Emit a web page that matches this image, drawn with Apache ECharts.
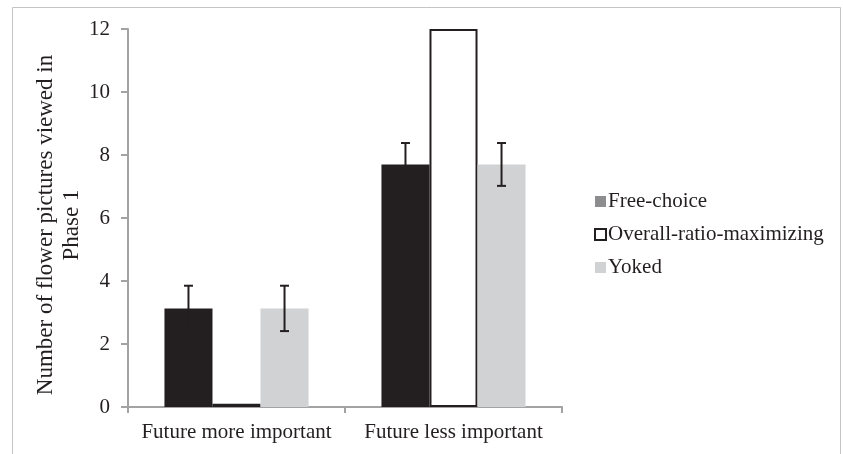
<!DOCTYPE html>
<html>
<head>
<meta charset="utf-8">
<script src="https://cdn.jsdelivr.net/npm/echarts@6/dist/echarts.min.js"></script>
<style>
html,body{margin:0;padding:0;background:#fff;}
#chart{width:843px;height:454px;}
</style>
</head>
<body>
<div id="chart"></div>
<script>
const categories = ['Future more important', 'Future less important'];
const seriesNames = ['Free-choice', 'Overall-ratio-maximizing', 'Yoked'];
const freeChoice = [3.13, 7.7];
const overallRatio = [0.1, 12];
const yoked = [3.13, 7.7];
const freeChoiceErr = [0.72, 0.68];
const yokedErr = [0.72, 0.68];
const yTicks = [0, 2, 4, 6, 8, 10, 12];

const FONT = "'Liberation Serif', 'Times New Roman', serif";
const DARK = '#231f20';
const AXIS = '#a3a3a3';
const GAP = 0.336;

function errData(vals, errs, sIdx) {
  return vals.map((v, i) => [i, v, errs[i], sIdx]);
}

function renderErr(params, api) {
  const ci = api.value(0), v = api.value(1), e = api.value(2), s = api.value(3);
  const band = api.size([1, 0])[0];
  const bw = band * (1 - GAP) / 3;
  const c = api.coord([ci, v]);
  const x = c[0] + (s - 1) * bw;
  const top = api.coord([ci, v + e])[1];
  const bot = api.coord([ci, v - e])[1];
  const cap = 4.5;
  const style = { stroke: DARK, lineWidth: 2 };
  return {
    type: 'group',
    children: [
      { type: 'line', shape: { x1: x, y1: top, x2: x, y2: bot }, style },
      { type: 'line', shape: { x1: x - cap, y1: top, x2: x + cap, y2: top }, style },
      { type: 'line', shape: { x1: x - cap, y1: bot, x2: x + cap, y2: bot }, style }
    ]
  };
}

const chart = echarts.init(document.getElementById('chart'), null, { renderer: 'canvas' });
chart.setOption({
  animation: false,
  backgroundColor: '#fff',
  textStyle: { fontFamily: FONT, color: DARK },
  graphic: [{
    type: 'rect', silent: true, z: -1,
    shape: { x: 12.5, y: 7.5, width: 828, height: 470 },
    style: { fill: 'none', stroke: '#c4c4c4', lineWidth: 1 }
  }],
  grid: { left: 128, right: 281, top: 29, bottom: 47 },
  legend: {
    orient: 'vertical',
    left: 589, top: 186,
    icon: 'rect',
    itemWidth: 11, itemHeight: 11,
    itemGap: 12,
    textStyle: { fontFamily: FONT, fontSize: 21, color: DARK, padding: [0, 0, 0, -3] },
    data: [
      { name: seriesNames[0], itemStyle: { color: '#8d8d8f', borderWidth: 0 } },
      { name: seriesNames[1], itemStyle: { color: '#ffffff', borderColor: DARK, borderWidth: 2 } },
      { name: seriesNames[2], itemStyle: { color: '#d1d2d4', borderWidth: 0 } }
    ]
  },
  xAxis: {
    type: 'category',
    data: categories,
    axisLine: { lineStyle: { color: AXIS, width: 2 } },
    axisTick: { show: true, length: 6, lineStyle: { color: AXIS, width: 2 } },
    axisLabel: { fontFamily: FONT, fontSize: 21, color: DARK, margin: 15, interval: 0, hideOverlap: false }
  },
  yAxis: {
    type: 'value',
    min: 0, max: 12, interval: 2,
    name: 'Number of flower pictures viewed in\nPhase 1',
    nameLocation: 'middle',
    nameRotate: 90,
    nameGap: 43,
    nameMoveOverlap: false,
    nameTextStyle: { fontFamily: FONT, fontSize: 23, color: DARK, lineHeight: 26, padding: [0, 14, 0, 0] },
    splitLine: { show: false },
    axisLine: { show: true, lineStyle: { color: AXIS, width: 2 } },
    axisTick: { show: true, length: 7, lineStyle: { color: AXIS, width: 2 } },
    axisLabel: {
      fontFamily: FONT, fontSize: 21, color: DARK, margin: 18,
      formatter: v => (yTicks.indexOf(v) >= 0 ? String(v) : '')
    }
  },
  series: [
    {
      name: seriesNames[0], type: 'bar', data: freeChoice,
      barGap: '0%', barCategoryGap: (GAP * 100) + '%',
      itemStyle: { color: DARK, borderColor: DARK, borderWidth: 0 }
    },
    {
      name: seriesNames[1], type: 'bar', data: overallRatio,
      itemStyle: { color: '#ffffff', borderColor: DARK, borderWidth: 2 }
    },
    {
      name: seriesNames[2], type: 'bar', data: yoked,
      itemStyle: { color: '#d1d2d4' }
    },
    {
      type: 'custom', renderItem: renderErr, z: 5,
      data: errData(freeChoice, freeChoiceErr, 0).concat(errData(yoked, yokedErr, 2)),
      encode: { x: 0, y: 1 },
      silent: true, tooltip: { show: false }
    }
  ]
});
</script>
</body>
</html>
